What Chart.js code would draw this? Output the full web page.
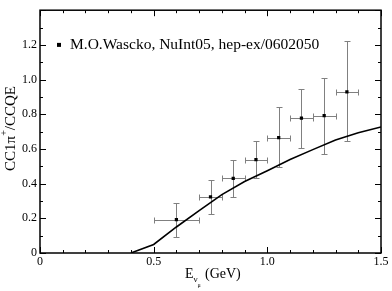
<!DOCTYPE html>
<html>
<head>
<meta charset="utf-8">
<script src="https://cdn.jsdelivr.net/npm/chart.js@4.4.0/dist/chart.umd.min.js"></script>
<style>
  html, body { margin: 0; padding: 0; background: #fff; }
  #wrap { width: 392px; height: 291px; }
</style>
</head>
<body>
<div id="wrap"><canvas id="chart"></canvas></div>
<script>
// data points (M.O.Wascko, NuInt05)
const xPts = [0.6, 0.75, 0.85, 0.95, 1.05, 1.15, 1.25, 1.35];
const yPts = [0.193, 0.324, 0.431, 0.538, 0.665, 0.778, 0.792, 0.929];
const yHigh = [0.29, 0.42, 0.536, 0.643, 0.843, 0.948, 1.008, 1.223];
const yLow = [0.095, 0.225, 0.324, 0.435, 0.493, 0.605, 0.573, 0.646];
const xErr = [0.1, 0.05, 0.05, 0.05, 0.05, 0.05, 0.05, 0.05];

// model curve
const curveX = [0.4, 0.5, 0.6, 0.7, 0.8, 0.9, 1.0, 1.1, 1.2, 1.3, 1.4, 1.5];
const curveY = [0, 0.049, 0.15, 0.244, 0.337, 0.412, 0.474, 0.539, 0.596, 0.652, 0.693, 0.727];

const xTicks = [0, 0.5, 1, 1.5];
const yTicks = [0, 0.2, 0.4, 0.6, 0.8, 1, 1.2];
const legendText = 'M.O.Wascko, NuInt05, hep-ex/0602050';

const serif = "'Liberation Serif', 'DejaVu Serif', serif";
Chart.defaults.font.family = serif;
Chart.defaults.color = '#000';

let points = xPts.map((x, i) => ({x: x, y: yPts[i]}));
let curve = curveX.map((x, i) => ({x: x, y: curveY[i]}));

// error bars drawn under the points
const errorBars = {
  id: 'errorBars',
  beforeDatasetsDraw(chart) {
    const ctx = chart.ctx, xs = chart.scales.x, ys = chart.scales.y;
    ctx.save();
    ctx.strokeStyle = '#808080';
    ctx.lineWidth = 1;
    for (let i = 0; i < xPts.length; i++) {
      let px = Math.round(xs.getPixelForValue(xPts[i])) + 0.5;
      let py = Math.round(ys.getPixelForValue(yPts[i])) + 0.5;
      let x1 = Math.round(xs.getPixelForValue(xPts[i] - xErr[i])) + 0.5;
      let x2 = Math.round(xs.getPixelForValue(xPts[i] + xErr[i])) + 0.5;
      let y1 = Math.round(ys.getPixelForValue(yHigh[i])) + 0.5;
      let y2 = Math.round(ys.getPixelForValue(yLow[i])) + 0.5;
      ctx.beginPath();
      ctx.moveTo(x1, py); ctx.lineTo(x2, py);
      ctx.moveTo(x1, py - 3); ctx.lineTo(x1, py + 3);
      ctx.moveTo(x2, py - 3); ctx.lineTo(x2, py + 3);
      ctx.moveTo(px, y1); ctx.lineTo(px, y2);
      ctx.moveTo(px - 3, y1); ctx.lineTo(px + 3, y1);
      ctx.moveTo(px - 3, y2); ctx.lineTo(px + 3, y2);
      ctx.stroke();
    }
    ctx.restore();
  }
};

// frame, inward ticks on all sides, legend and axis titles
const frame = {
  id: 'frame',
  afterDraw(chart) {
    const ctx = chart.ctx, a = chart.chartArea;
    const xs = chart.scales.x, ys = chart.scales.y;
    ctx.save();
    ctx.strokeStyle = '#000';
    ctx.lineWidth = 1.5;
    ctx.strokeRect(a.left, a.top, a.right - a.left, a.bottom - a.top);
    ctx.lineWidth = 1;
    ctx.beginPath();
    for (let v = 0; v <= 1.5001; v += 0.1) {
      let p = Math.round(xs.getPixelForValue(v)) + 0.5;
      let major = Math.abs(v * 2 - Math.round(v * 2)) < 1e-6;
      let len = major ? 6 : 3;
      ctx.moveTo(p, a.bottom); ctx.lineTo(p, a.bottom - len);
      ctx.moveTo(p, a.top); ctx.lineTo(p, a.top + len);
    }
    for (let v = 0; v <= 1.4001; v += 0.1) {
      let p = Math.round(ys.getPixelForValue(v)) + 0.5;
      let major = Math.abs(v * 5 - Math.round(v * 5)) < 1e-6;
      let len = major ? 6 : 3;
      ctx.moveTo(a.left, p); ctx.lineTo(a.left + len, p);
      ctx.moveTo(a.right, p); ctx.lineTo(a.right - len, p);
    }
    ctx.stroke();

    // legend
    ctx.fillStyle = '#000';
    let ly = ys.getPixelForValue(1.2);
    ctx.fillRect(57, ly - 2, 4, 4);
    ctx.font = '15.5px ' + serif;
    ctx.textBaseline = 'middle';
    ctx.textAlign = 'left';
    ctx.fillText(legendText, 70, ly);

    // y title
    ctx.save();
    ctx.translate(11, 128.5);
    ctx.rotate(-Math.PI / 2);
    ctx.textAlign = 'left';
    ctx.textBaseline = 'middle';
    ctx.font = '15px ' + serif;
    let p1 = 'CC1\u03c0', p2 = '/CCQE';
    let w1 = ctx.measureText(p1).width;
    ctx.font = '10px ' + serif;
    let wp = ctx.measureText('+').width;
    ctx.font = '15px ' + serif;
    let w2 = ctx.measureText(p2).width;
    let start = -(w1 + wp + w2) / 2;
    ctx.fillText(p1, start, 0);
    ctx.font = '10px ' + serif;
    ctx.fillText('+', start + w1, -7);
    ctx.font = '15px ' + serif;
    ctx.fillText(p2, start + w1 + wp, 0);
    ctx.restore();

    // x title
    ctx.textBaseline = 'alphabetic';
    let sx = 185;
    let by = 278;
    ctx.font = '14px ' + serif;
    let wE = ctx.measureText('E').width;
    ctx.fillText('E', sx, by);
    ctx.font = '9px ' + serif;
    ctx.fillText('\u03bd', sx + wE, by + 4);
    ctx.font = '6px ' + serif;
    ctx.fillText('\u03bc', sx + wE + 4, by + 9);
    ctx.font = '14px ' + serif;
    ctx.fillText('(GeV)', 205, by);
    ctx.restore();
  }
};

new Chart(document.getElementById('chart'), {
  type: 'scatter',
  data: {
    datasets: [
      {
        label: 'model',
        data: curve,
        showLine: true,
        borderColor: '#000',
        borderWidth: 1.6,
        pointRadius: 0,
        tension: 0
      },
      {
        label: legendText,
        data: points,
        pointStyle: 'rect',
        pointRadius: 2.3,
        backgroundColor: '#000',
        borderColor: '#000',
        borderWidth: 0
      }
    ]
  },
  options: {
    responsive: true,
    maintainAspectRatio: false,
    animation: false,
    layout: { padding: { top: 3, right: 11, left: 0, bottom: 0 } },
    plugins: { legend: { display: false }, tooltip: { enabled: false } },
    scales: {
      x: {
        type: 'linear',
        min: 0, max: 1.5,
        afterBuildTicks: s => { s.ticks = xTicks.map(v => ({value: v})); },
        afterFit: s => { s.height = 38; },
        grid: { display: false, drawTicks: false },
        border: { display: false },
        ticks: { color: '#000', padding: 2, font: { family: serif, size: 12 } }
      },
      y: {
        type: 'linear',
        min: 0, max: 1.4,
        afterBuildTicks: s => { s.ticks = yTicks.map(v => ({value: v})); },
        afterFit: s => { s.width = 40; },
        grid: { display: false, drawTicks: false },
        border: { display: false },
        ticks: { color: '#000', padding: 3, font: { family: serif, size: 12 } }
      }
    }
  },
  plugins: [errorBars, frame]
});
</script>
</body>
</html>
